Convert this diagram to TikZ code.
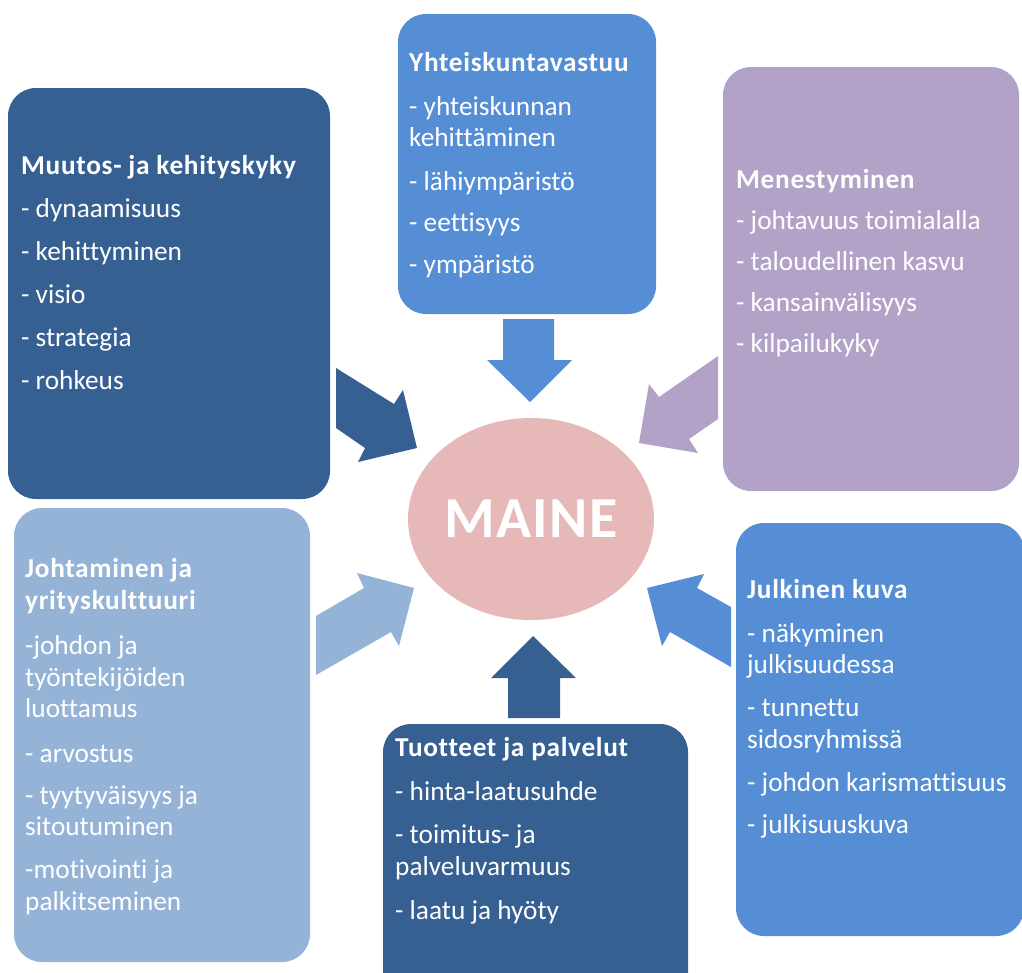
\documentclass[tikz,border=0pt]{standalone}
\usepackage{fontspec}
\setmainfont{Carlito}[Ligatures=NoCommon,BoldFeatures={LetterSpace=2.5}]
\usetikzlibrary{shapes.geometric}
\definecolor{darkblue}{RGB}{54,96,146}
\definecolor{midblue}{RGB}{85,142,213}
\definecolor{lightblue}{RGB}{149,179,215}
\definecolor{lilac}{RGB}{179,162,199}
\definecolor{rose}{RGB}{230,185,184}
\tikzset{
  box/.style={rounded corners=28pt},
  boxtext/.style={text=white,anchor=base west,inner sep=0pt,align=left,font=\fontsize{27.3}{31.5}\selectfont},
}

\begin{document}
\begin{tikzpicture}[x=1pt,y=-1pt]
\clip (0,0) rectangle (1022,972);
\fill[white] (0,0) rectangle (1022,972);
\fill[darkblue,box] (8,88) rectangle (330,499);
\fill[midblue,box] (398,14) rectangle (656,314);
\fill[lilac,box] (723,67) rectangle (1019,491);
\fill[lightblue,box] (14,508) rectangle (310,962);
\fill[darkblue,box] (383,724) rectangle (688,1010);
\fill[midblue,box] (736,523) rectangle (1024,936);

\fill[midblue] (503,319) -- (554,319) -- (554,360) -- (572,360) -- (530,402) -- (487,360) -- (503,360) -- cycle;
\fill[darkblue] (508,718) -- (508,678) -- (491,678) -- (533,636) -- (576,678) -- (560,678) -- (560,718) -- cycle;
\fill[darkblue] (336,368) -- (394,404) -- (403,390) -- (417,448) -- (358,462) -- (365,448) -- (336,428) -- cycle;
\fill[lilac] (718,356) -- (718,419) -- (689,439) -- (698,453) -- (639,443) -- (649,384) -- (659,397) -- cycle;
\fill[lightblue] (316,616) -- (364,588) -- (357,573) -- (414,588) -- (399,646) -- (391,632) -- (316,675) -- cycle;
\fill[midblue] (731,607) -- (697,588) -- (704,574) -- (647,588) -- (662,646) -- (670,632) -- (731,667) -- cycle;

\node[ellipse,fill=rose,inner sep=0pt,minimum width=246pt,minimum height=202pt,text=white,font=\fontsize{58}{60}\selectfont\bfseries] (maine) at (531,519) {MAINE};

% anchored at the baseline of the last line
\node[boxtext] (muutos) at (21,389) {\textbf{Muutos- ja kehityskyky}\\[11.5pt]
- dynaamisuus\\[11.5pt] - kehittyminen\\[11.5pt] - visio\\[11.5pt] - strategia\\[11.5pt] - rohkeus};
\node[boxtext] (vastuu) at (409,273) {\textbf{Yhteiskuntavastuu}\\[12pt]
- yhteiskunnan\\ kehittäminen\\[12pt] - lähiympäristö\\[10pt] - eettisyys\\[10pt] - ympäristö};
\node[boxtext] (menestys) at (736,352) {\textbf{Menestyminen}\\[9.5pt]
- johtavuus toimialalla\\[9.5pt] - taloudellinen kasvu\\[9.5pt] - kansainvälisyys\\[9.5pt] - kilpailukyky};
\node[boxtext] (johtaminen) at (25,910) {\textbf{Johtaminen ja}\\ \textbf{yrityskulttuuri}\\[14pt]
-johdon ja\\ työntekijöiden\\ luottamus\\[13pt] - arvostus\\[10.5pt] - tyytyväisyys ja\\ sitoutuminen\\[11.5pt] -motivointi ja\\ palkitseminen};
\node[boxtext] (tuotteet) at (395,919) {\textbf{Tuotteet ja palvelut}\\[12.5pt]
- hinta-laatusuhde\\[11.5pt] - toimitus- ja\\ palveluvarmuus\\[12.5pt] - laatu ja hyöty};
\node[boxtext] (julkinen) at (747,833) {\textbf{Julkinen kuva}\\[12.5pt]
- näkyminen\\ julkisuudessa\\[11.5pt] - tunnettu\\ sidosryhmissä\\[11.5pt] - johdon karismattisuus\\[10.5pt] - julkisuuskuva};

\end{tikzpicture}
\end{document}
